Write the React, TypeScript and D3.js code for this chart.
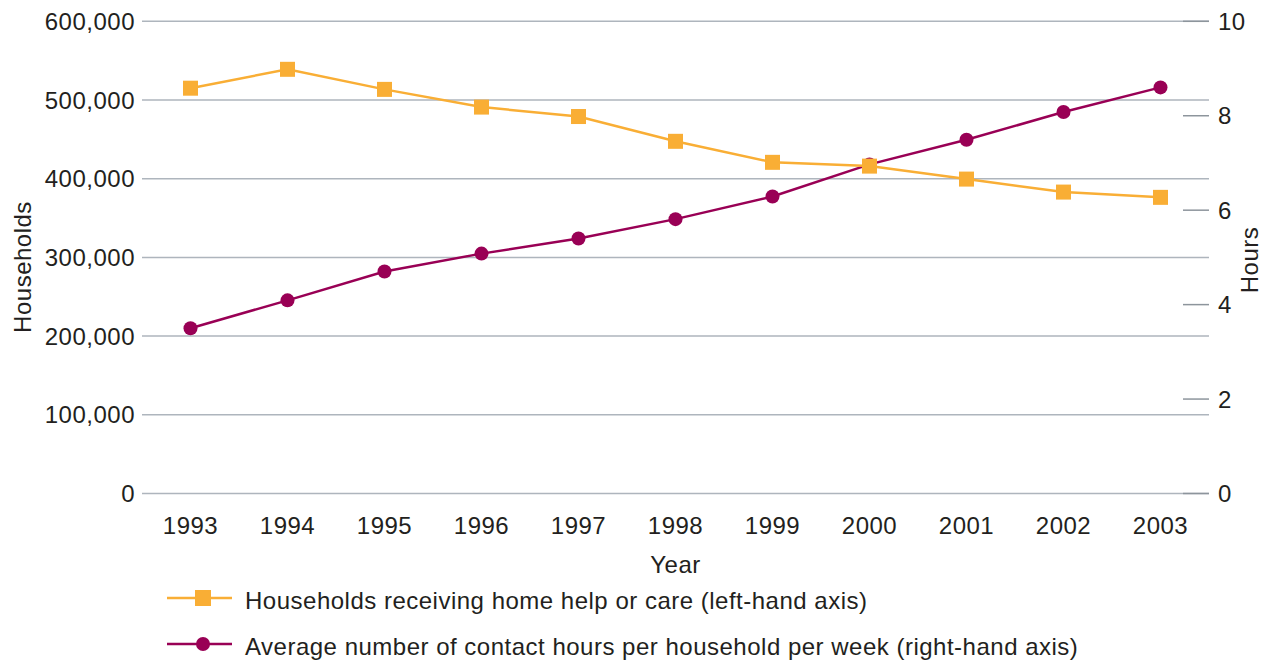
import React from "react";
import * as d3 from "d3";

const years = ["1993","1994","1995","1996","1997","1998","1999","2000","2001","2002","2003"];
const households = [515000, 539000, 513500, 491000, 479000, 447500, 420800, 416000, 399500, 383000, 376300];
const hours = [3.5, 4.09, 4.7, 5.08, 5.4, 5.81, 6.29, 6.97, 7.49, 8.08, 8.6];
const leftTicks = [0, 100000, 200000, 300000, 400000, 500000, 600000];
const rightTicks = [0, 2, 4, 6, 8, 10];
const legendLabels = [
  "Households receiving home help or care (left-hand axis)",
  "Average number of contact hours per household per week (right-hand axis)",
];

const ORANGE = "#F9AE35";
const PURPLE = "#990055";
const TEXT = "#231f20";
const FONT = "'Liberation Sans', Arial, Helvetica, sans-serif";
const FS = 24;
const LS = 0.5;

export default function App() {
  const W = 1272, H = 660;
  const x0 = 142, x1 = 1209, yTop = 21.3, yBot = 493.5;
  const x = d3.scalePoint<string>().domain(years).range([x0, x1]).padding(0.5);
  const yL = d3.scaleLinear().domain([0, 600000]).range([yBot, yTop]);
  const yR = d3.scaleLinear().domain([0, 10]).range([yBot, yTop]);
  const fmt = d3.format(",");
  const lineL = d3.line<number>().x((_, i) => x(years[i])!).y((d) => yL(d));
  const lineR = d3.line<number>().x((_, i) => x(years[i])!).y((d) => yR(d));
  const sq = 15;
  const tp = { fontSize: FS, fill: TEXT, letterSpacing: LS } as any;

  return (
    <svg width={W} height={H} style={{ position: "absolute", left: 0, top: 0, display: "block" }} fontFamily={FONT}>
      <rect width={W} height={H} fill="#fff" />
      {leftTicks.map((t) => (
        <g key={t}>
          <line x1={x0} x2={x1} y1={yL(t)} y2={yL(t)} stroke="#aeb5bd" strokeWidth={1.5} />
          <text x={135} y={yL(t)} textAnchor="end" dominantBaseline="central" {...tp}>{fmt(t)}</text>
        </g>
      ))}
      {rightTicks.map((t) => (
        <g key={t}>
          <line x1={1183} x2={x1} y1={yR(t)} y2={yR(t)} stroke="#8d959c" strokeWidth={1.5} />
          <text x={1218} y={yR(t)} textAnchor="start" dominantBaseline="central" {...tp}>{t}</text>
        </g>
      ))}
      {years.map((yr) => (
        <text key={yr} x={x(yr)} y={525} textAnchor="middle" dominantBaseline="central" {...tp}>{yr}</text>
      ))}
      <text x={(x0 + x1) / 2} y={564} textAnchor="middle" dominantBaseline="central" {...tp}>Year</text>
      <text transform={`translate(22,267) rotate(-90)`} textAnchor="middle" dominantBaseline="central" {...tp}>Households</text>
      <text transform={`translate(1249,260) rotate(-90)`} textAnchor="middle" dominantBaseline="central" {...tp}>Hours</text>

      <path d={lineR(hours)!} fill="none" stroke={PURPLE} strokeWidth={2.5} />
      {hours.map((h, i) => (
        <circle key={i} cx={x(years[i])} cy={yR(h)} r={7} fill={PURPLE} />
      ))}
      <path d={lineL(households)!} fill="none" stroke={ORANGE} strokeWidth={2.5} />
      {households.map((v, i) => (
        <rect key={i} x={x(years[i])! - sq / 2} y={yL(v) - sq / 2} width={sq} height={sq} fill={ORANGE} />
      ))}

      <g>
        <line x1={167} x2={232} y1={598} y2={598} stroke={ORANGE} strokeWidth={2.5} />
        <rect x={203 - 8} y={598 - 8} width={16} height={16} fill={ORANGE} />
        <text x={245} y={600} dominantBaseline="central" {...tp}>{legendLabels[0]}</text>
        <line x1={167} x2={232} y1={644} y2={644} stroke={PURPLE} strokeWidth={2.5} />
        <circle cx={203} cy={644} r={7} fill={PURPLE} />
        <text x={245} y={646} dominantBaseline="central" {...tp}>{legendLabels[1]}</text>
      </g>
    </svg>
  );
}
